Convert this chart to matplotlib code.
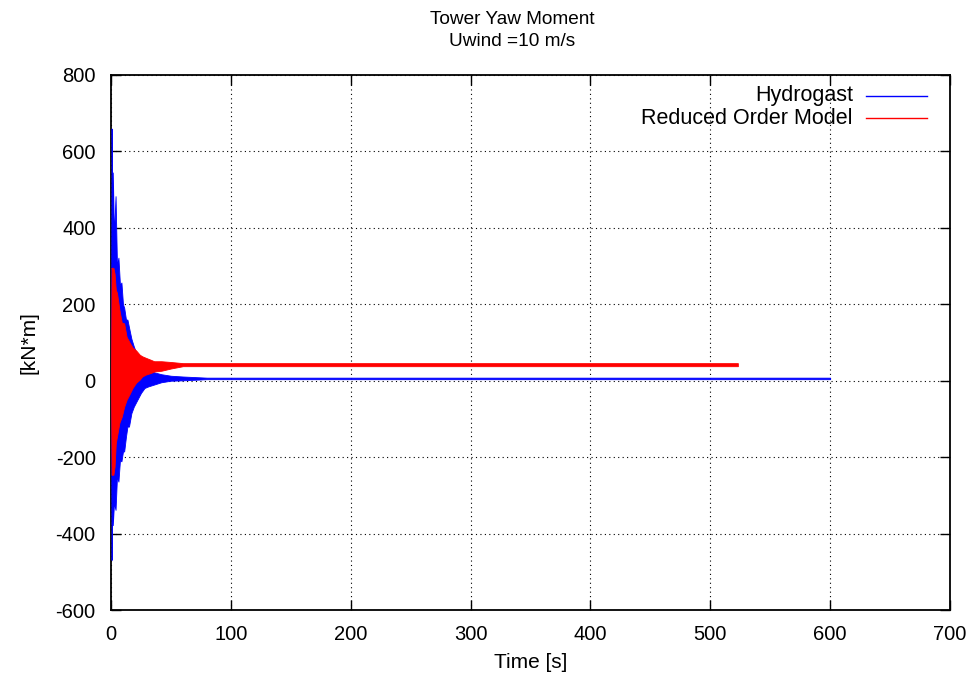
import matplotlib
matplotlib.use("Agg")
import matplotlib.pyplot as plt
from matplotlib.lines import Line2D

plt.rcParams['font.family'] = ['Liberation Sans', 'DejaVu Sans']
plt.rcParams['axes.unicode_minus'] = False

# Hydrogast: time and oscillation envelope (upper / lower extremes)
t_hydro = [0, 0.5, 1.0, 1.5, 2.5, 3.8, 5.0, 6.2, 7.5, 8.7, 10.0, 11.0, 12.5,
           13.7, 15, 17, 19, 22, 25, 28, 31, 36, 42, 50, 60, 80, 120, 200,
           300, 400, 500, 600]
hydro_hi = [0, 660, 420, 545, 380, 483, 300, 322, 250, 257, 200, 191, 160,
            160, 140, 110, 90, 65, 45, 35, 28, 22, 17, 13, 11, 8, 8, 8,
            8, 8, 8, 8]
hydro_lo = [0, -469, -300, -378, -320, -338, -250, -264, -207, -211, -185, -185, -146,
            -120, -120, -85, -68, -50, -32, -19, -15, -10, -4, 0, 1, 4, 4, 4,
            4, 4, 4, 4]

# Reduced order model: time and oscillation envelope
t_rom = [0, 0.5, 1, 2, 3, 4, 5, 7, 9, 11, 13, 15.5, 18, 21, 24, 26, 29, 33,
         36, 42, 50, 60, 150, 300, 450, 523]
rom_hi = [0, 296, 290, 296, 280, 238, 230, 186, 152, 150, 115, 100, 87, 79,
          68, 64, 60, 55, 51, 51, 49, 46, 46, 46, 46, 46]
rom_lo = [0, -246, -246, -246, -225, -163, -146, -110, -94, -68, -50, -35,
          -19, -5, 3, 11, 16, 20, 24, 26, 32, 38, 38, 38, 38, 38]

series_names = ["Hydrogast", "Reduced Order Model"]
series_colors = ["#0000ff", "#ff0000"]

x_ticks = [0, 100, 200, 300, 400, 500, 600, 700]
y_ticks = [-600, -400, -200, 0, 200, 400, 600, 800]

fig = plt.figure(figsize=(9.79, 6.82), dpi=100)
ax = fig.add_axes([111 / 979, 1 - 610 / 682, (950 - 111) / 979, (610 - 75) / 682])

for t, hi, lo, c in [(t_hydro, hydro_hi, hydro_lo, series_colors[0]),
                     (t_rom, rom_hi, rom_lo, series_colors[1])]:
    ax.fill_between(t, lo, hi, color=c, linewidth=0.6, edgecolor=c, zorder=3)

ax.set_xlim(0, 700)
ax.set_ylim(-600, 800)
ax.set_xticks(x_ticks)
ax.set_yticks(y_ticks)
ax.tick_params(direction='in', length=7, width=1.0, top=True, right=True,
               labelsize=14.5, pad=11)
ax.grid(True, color='black', linestyle=(0, (1, 3)), linewidth=0.8)
for s in ax.spines.values():
    s.set_linewidth(1.3)

ax.set_xlabel("Time [s]", fontsize=15, labelpad=6)
ax.set_ylabel("[kN*m]", fontsize=15, labelpad=12)

fig.text(512 / 979, 1 - 20 / 682, "Tower Yaw Moment", ha='center', va='center', fontsize=13.7)
fig.text(512 / 979, 1 - 42 / 682, "Uwind =10 m/s", ha='center', va='center', fontsize=13.7)

# key at upper right
for i, (name, c) in enumerate(zip(series_names, series_colors)):
    ypix = 96 + 22 * i
    yf = 1 - ypix / 682
    fig.text(853 / 979, yf, name, ha='right', va='center', fontsize=15.5)
    fig.add_artist(Line2D([866 / 979, 927 / 979], [yf, yf], color=c, linewidth=1.0,
                          transform=fig.transFigure))

fig.savefig("out.png", dpi=100)
